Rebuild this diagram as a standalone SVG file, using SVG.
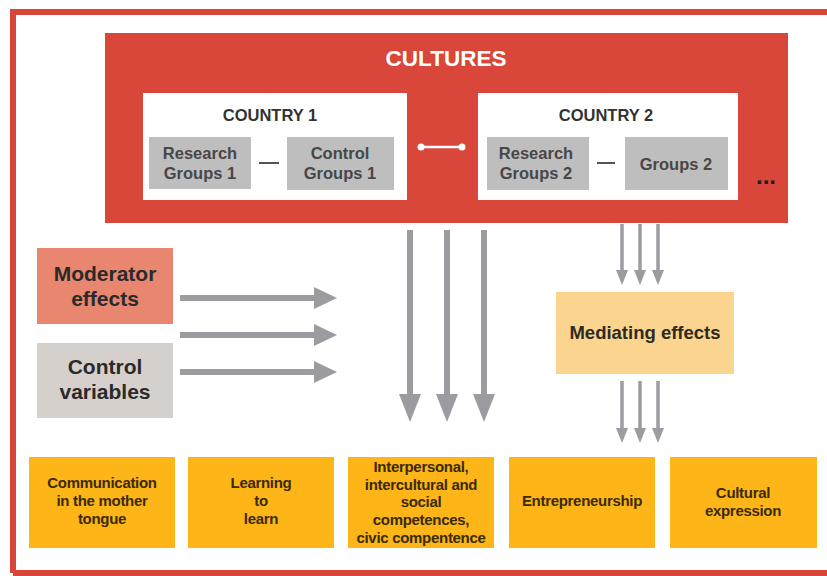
<svg xmlns="http://www.w3.org/2000/svg" width="827" height="576" viewBox="0 0 827 576">
  <defs>
    <style>
      .frame { fill: none; stroke: #D8463A; stroke-width: 6; }
      .culture { fill: #D8473A; }
      .country { fill: #FFFFFF; }
      .group { fill: #BEBEBE; }
      .mod { fill: #E8866F; }
      .ctrl { fill: #D6D0CC; }
      .med { fill: #FBD48F; }
      .comp { fill: #FDB517; }
      .arrow { stroke: #9B9BA0; fill: none; }
      .ahead { fill: #9B9BA0; }
      text { font-family: "Liberation Sans", Arial, sans-serif; font-weight: bold; text-anchor: middle; }
      .t-title { fill: #FFFFFF; font-size: 22.5px; }
      .t-country { fill: #333333; font-size: 16.5px; }
      .t-group { fill: #474747; font-size: 16.5px; }
      .t-side { fill: #2A2A2A; font-size: 21px; }
      .t-med { fill: #2E2A20; font-size: 18.5px; }
      .t-comp { fill: #3A2A00; font-size: 15px; letter-spacing: -0.3px; }
      .link { stroke: #555555; stroke-width: 2; }
    </style>
  </defs>

  <rect x="0" y="0" width="827" height="576" fill="#FFFFFF"/>

  <!-- outer frame (right side runs off the page) -->
  <path class="frame" d="M13,573 L13,12 L830,12 M13,573 L830,573"/>

  <!-- cultures block -->
  <g id="cultures">
    <rect class="culture" x="105" y="33" width="683" height="190"/>
    <text class="t-title" x="446" y="66">CULTURES</text>
    <text x="766" y="184" style="fill:#1E1E1E;font-size:24px;">...</text>
  </g>

  <g id="country1">
    <rect class="country" x="143" y="93" width="264" height="107"/>
    <text class="t-country" x="270" y="121">COUNTRY 1</text>
  </g>
  <g id="research1">
    <rect class="group" x="149" y="137" width="102" height="52"/>
    <text class="t-group" x="200" y="159">Research</text>
    <text class="t-group" x="200" y="179">Groups 1</text>
  </g>
  <g id="control1">
    <rect class="group" x="287" y="137" width="107" height="53"/>
    <text class="t-group" x="340" y="159">Control</text>
    <text class="t-group" x="340" y="179">Groups 1</text>
  </g>

  <g id="country2">
    <rect class="country" x="478" y="93" width="260" height="107"/>
    <text class="t-country" x="606" y="121">COUNTRY 2</text>
  </g>
  <g id="research2">
    <rect class="group" x="487" y="137" width="102" height="53"/>
    <text class="t-group" x="536" y="159">Research</text>
    <text class="t-group" x="536" y="179">Groups 2</text>
  </g>
  <g id="groups2">
    <rect class="group" x="625" y="137" width="103" height="53"/>
    <text class="t-group" x="676" y="170">Groups 2</text>
  </g>

  <g id="moderator">
    <rect class="mod" x="37" y="248" width="136" height="76"/>
    <text class="t-side" x="105" y="281">Moderator</text>
    <text class="t-side" x="105" y="306">effects</text>
  </g>
  <g id="control-variables">
    <rect class="ctrl" x="37" y="343" width="136" height="75"/>
    <text class="t-side" x="105" y="374">Control</text>
    <text class="t-side" x="105" y="399">variables</text>
  </g>

  <g id="mediating">
    <rect class="med" x="556" y="292" width="178" height="82"/>
    <text class="t-med" x="645" y="339">Mediating effects</text>
  </g>

  <g id="comp1">
    <rect class="comp" x="29" y="457" width="146" height="91"/>
    <text class="t-comp" x="102" y="488">Communication</text>
    <text class="t-comp" x="102" y="506">in the mother</text>
    <text class="t-comp" x="102" y="524">tongue</text>
  </g>
  <g id="comp2">
    <rect class="comp" x="188" y="457" width="146" height="91"/>
    <text class="t-comp" x="261" y="488">Learning</text>
    <text class="t-comp" x="261" y="506">to</text>
    <text class="t-comp" x="261" y="524">learn</text>
  </g>
  <g id="comp3">
    <rect class="comp" x="348" y="457" width="146" height="91"/>
    <text class="t-comp" x="421" y="472">Interpersonal,</text>
    <text class="t-comp" x="421" y="490">intercultural and</text>
    <text class="t-comp" x="421" y="507">social</text>
    <text class="t-comp" x="421" y="525">competences,</text>
    <text class="t-comp" x="421" y="543">civic compentence</text>
  </g>
  <g id="comp4">
    <rect class="comp" x="509" y="457" width="146" height="91"/>
    <text class="t-comp" x="582" y="506">Entrepreneurship</text>
  </g>
  <g id="comp5">
    <rect class="comp" x="670" y="457" width="147" height="91"/>
    <text class="t-comp" x="743" y="498">Cultural</text>
    <text class="t-comp" x="743" y="516">expression</text>
  </g>

  <!-- connectors -->
  <g id="connectors">
    <!-- links inside the country boxes -->
    <line class="link" x1="259" y1="163" x2="279" y2="163"/>
    <line class="link" x1="597" y1="163" x2="615" y2="163"/>
    <!-- link between the countries -->
    <line x1="421" y1="147" x2="462" y2="147" stroke="#FFFFFF" stroke-width="2.5"/>
    <circle cx="421" cy="147" r="3.5" fill="#FFFFFF"/>
    <circle cx="462" cy="147" r="3.5" fill="#FFFFFF"/>

    <!-- moderator / control arrows -->
    <line class="arrow" stroke-width="6" x1="180" y1="298" x2="316" y2="298"/>
    <polygon class="ahead" points="314,287 337,298 314,309"/>
    <line class="arrow" stroke-width="6" x1="180" y1="335" x2="316" y2="335"/>
    <polygon class="ahead" points="314,324 337,335 314,346"/>
    <line class="arrow" stroke-width="6" x1="180" y1="372" x2="316" y2="372"/>
    <polygon class="ahead" points="314,361 337,372 314,383"/>

    <!-- cultures to competences -->
    <line class="arrow" stroke-width="6" x1="410" y1="230" x2="410" y2="396"/>
    <polygon class="ahead" points="399,394 421,394 410,422"/>
    <line class="arrow" stroke-width="6" x1="447" y1="230" x2="447" y2="396"/>
    <polygon class="ahead" points="436,394 458,394 447,422"/>
    <line class="arrow" stroke-width="6" x1="484" y1="230" x2="484" y2="396"/>
    <polygon class="ahead" points="473,394 495,394 484,422"/>

    <!-- cultures to mediating effects -->
    <line class="arrow" stroke-width="3.5" x1="622" y1="224" x2="622" y2="272"/>
    <polygon class="ahead" points="616,270 628,270 622,285"/>
    <line class="arrow" stroke-width="3.5" x1="640" y1="224" x2="640" y2="272"/>
    <polygon class="ahead" points="634,270 646,270 640,285"/>
    <line class="arrow" stroke-width="3.5" x1="658" y1="224" x2="658" y2="272"/>
    <polygon class="ahead" points="652,270 664,270 658,285"/>

    <!-- mediating effects to competences -->
    <line class="arrow" stroke-width="3.5" x1="622" y1="381" x2="622" y2="430"/>
    <polygon class="ahead" points="616,428 628,428 622,443"/>
    <line class="arrow" stroke-width="3.5" x1="640" y1="381" x2="640" y2="430"/>
    <polygon class="ahead" points="634,428 646,428 640,443"/>
    <line class="arrow" stroke-width="3.5" x1="658" y1="381" x2="658" y2="430"/>
    <polygon class="ahead" points="652,428 664,428 658,443"/>
  </g>
</svg>
